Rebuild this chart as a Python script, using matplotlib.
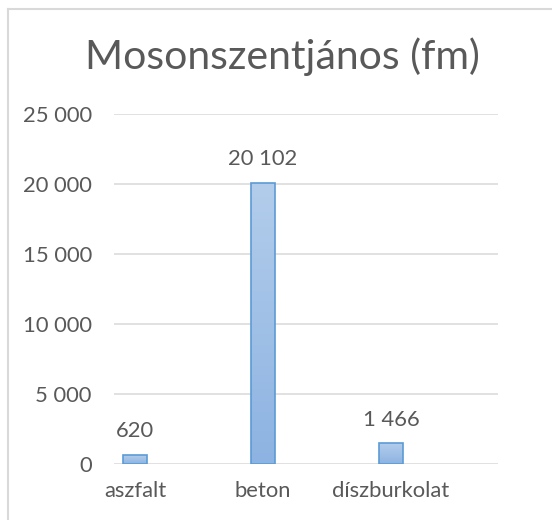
import numpy as np
import matplotlib.pyplot as plt
from matplotlib.lines import Line2D

categories = ['aszfalt', 'beton', 'díszburkolat']
values = [620, 20102, 1466]
yticks = [0, 5000, 10000, 15000, 20000, 25000]

plt.rcParams['font.family'] = ['Lato', 'DejaVu Sans']
grey = '#595959'


def fmt(v):
    return f"{v:,}".replace(",", " ")


fig = plt.figure(figsize=(5.52, 5.2), dpi=100)
ax = fig.add_axes([114 / 552, 56 / 520, 384 / 552, 350 / 520])

# chart border (only left/top visible in the crop)
fig.add_artist(Line2D([8 / 552, 8 / 552], [0, 1 - 9 / 520], transform=fig.transFigure, color='#d9d9d9', lw=1.5))
fig.add_artist(Line2D([8 / 552, 1], [1 - 9 / 520, 1 - 9 / 520], transform=fig.transFigure, color='#d9d9d9', lw=1.5))

x = np.arange(len(categories))
width = 0.18
bars = ax.bar(x, values, width=width, color='none', edgecolor='#5b9bd5', linewidth=1.2, zorder=3)

# vertical gradient fill inside each bar
grad = np.linspace(0, 1, 256).reshape(-1, 1)
cmap = plt.matplotlib.colors.LinearSegmentedColormap.from_list('g', ['#8db3e2', '#b3cdeb'])
for b in bars:
    x0, y0 = b.get_x(), b.get_y()
    im = ax.imshow(grad, cmap=cmap, origin='lower', aspect='auto',
                   extent=[x0, x0 + b.get_width(), y0, y0 + b.get_height()], zorder=2)
    im.set_clip_path(b)

for xi, v in zip(x, values):
    ax.annotate(fmt(v), (xi, v), xytext=(0, 10), textcoords='offset points',
                ha='center', va='bottom', fontsize=15.8, color=grey)

ax.set_xlim(-21 / 128, 2 + 107 / 128)
ax.set_ylim(0, 25000)
ax.set_yticks(yticks)
ax.set_yticklabels([fmt(t) for t in yticks])
ax.set_xticks(x)
ax.set_xticklabels(categories)
ax.tick_params(axis='y', length=0, pad=16, labelsize=15.8, labelcolor=grey)
ax.tick_params(axis='x', length=0, pad=12, labelsize=15.8, labelcolor=grey)
ax.grid(axis='y', color='#d9d9d9', linewidth=1.1, zorder=0)
ax.set_axisbelow(True)
for s in ax.spines.values():
    s.set_visible(False)

fig.text(282 / 552, 1 - 57 / 520, 'Mosonszentjános (fm)', ha='center', va='center',
         fontsize=29.5, color=grey)

fig.savefig('out.png', dpi=100)
